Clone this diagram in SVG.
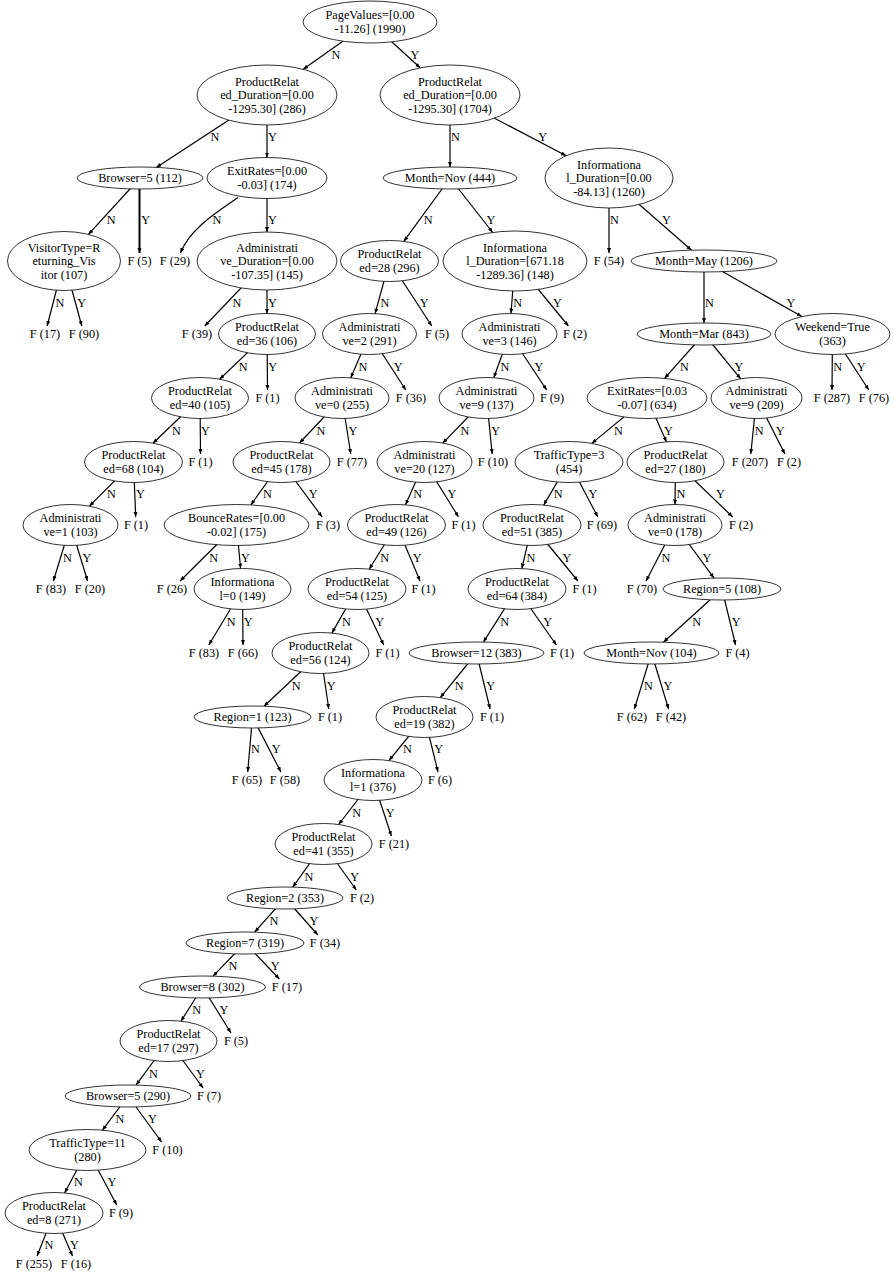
<svg xmlns="http://www.w3.org/2000/svg" width="894" height="1272" viewBox="0 0 894 1272">
<style>
text{font-family:"Liberation Serif","Times New Roman",serif;font-size:12.25px;fill:#000}
.t{text-anchor:middle}
ellipse{fill:#fff;stroke:#000;stroke-width:0.8}
.e{stroke:#000;stroke-width:1.2;fill:none;marker-end:url(#a)}
</style>
<defs>
<marker id="a" markerUnits="userSpaceOnUse" markerWidth="6" markerHeight="5" refX="5" refY="2" orient="auto"><path d="M0,0L5,2L0,4z" fill="#000"/></marker>
</defs>
<rect width="894" height="1272" fill="#fff"/>
<g id="connectors">
<path class="e" d="M370,22L303.2,69.3"/><text x="331.5" y="58.5">N</text>
<path class="e" d="M370,22L420.2,67.8"/><text x="410.5" y="58.5">Y</text>
<path class="e" d="M267,95L156.3,167.4"/><text x="210.6" y="141">N</text>
<path class="e" d="M267,95L267,157.5"/><text x="268" y="141">Y</text>
<path class="e" d="M450,95L450,167"/><text x="451" y="141">N</text>
<path class="e" d="M450,95L566.2,155.7"/><text x="538.2" y="141">Y</text>
<path class="e" d="M140,178L88.4,234.4"/><text x="106.7" y="224">N</text>
<path class="e" d="M139.5,178L139.5,253" style="stroke-width:2"/><text x="141.3" y="224">Y</text>
<path class="e" d="M238,197.5C220,210 190,228 180.5,253"/><text x="212.5" y="224">N</text>
<path class="e" d="M267,178L267,232"/><text x="268" y="224">Y</text>
<path class="e" d="M450,178L403.8,241.4"/><text x="423.7" y="224">N</text>
<path class="e" d="M450,178L492.7,232.5"/><text x="486.6" y="224">Y</text>
<path class="e" d="M609,178L609,253"/><text x="610" y="224">N</text>
<path class="e" d="M609,178L691.6,250.2"/><text x="662" y="224">Y</text>
<path class="e" d="M64,261L47.1,326"/><text x="55.4" y="306.5">N</text>
<path class="e" d="M64,261L81.8,326"/><text x="77.3" y="306.5">Y</text>
<path class="e" d="M267,261L204.7,326"/><text x="232.5" y="306.5">N</text>
<path class="e" d="M267,261L267,313.5"/><text x="268" y="306.5">Y</text>
<path class="e" d="M389.5,261L375.1,313.6"/><text x="380.4" y="306.5">N</text>
<path class="e" d="M389.5,261L431.8,326"/><text x="419.8" y="306.5">Y</text>
<path class="e" d="M515,261L511,313.5"/><text x="513.2" y="306.5">N</text>
<path class="e" d="M515,261L568.4,326"/><text x="553" y="306.5">Y</text>
<path class="e" d="M704,261L704,323"/><text x="705" y="306.5">N</text>
<path class="e" d="M704,261L801.9,316.6"/><text x="786.5" y="306.5">Y</text>
<path class="e" d="M267,334L219.6,379.3"/><text x="238.7" y="370.5">N</text>
<path class="e" d="M267,334L267.5,390"/><text x="268.3" y="370.5">Y</text>
<path class="e" d="M369.5,334L350.7,377.9"/><text x="358.5" y="370.5">N</text>
<path class="e" d="M369.5,334L405.8,390"/><text x="393.8" y="370.5">Y</text>
<path class="e" d="M509.5,334L493.8,377.7"/><text x="500.4" y="370.5">N</text>
<path class="e" d="M509.5,334L546.7,390"/><text x="534.4" y="370.5">Y</text>
<path class="e" d="M704,334L664.5,378.4"/><text x="680.1" y="370.5">N</text>
<path class="e" d="M704,334L740.7,378.8"/><text x="734.5" y="370.5">Y</text>
<path class="e" d="M832.5,334L832,390"/><text x="833.3" y="370.5">N</text>
<path class="e" d="M832.5,334L868.8,390"/><text x="856.8" y="370.5">Y</text>
<path class="e" d="M200,398L153,443.2"/><text x="171.9" y="434.5">N</text>
<path class="e" d="M200,398L200.5,454"/><text x="201" y="434.5">Y</text>
<path class="e" d="M342,398L299.5,443"/><text x="316.5" y="434.5">N</text>
<path class="e" d="M342,398L350.75,454"/><text x="348.6" y="434.5">Y</text>
<path class="e" d="M486.5,398L442.8,443.1"/><text x="460.4" y="434.5">N</text>
<path class="e" d="M486.5,398L492.2,454"/><text x="491.2" y="434.5">Y</text>
<path class="e" d="M647,398L591.7,443.4"/><text x="613.9" y="434.5">N</text>
<path class="e" d="M647,398L666.5,441.9"/><text x="664" y="434.5">Y</text>
<path class="e" d="M756.5,398L750.8,454"/><text x="754.7" y="434.5">N</text>
<path class="e" d="M756.5,398L784.9,454"/><text x="775.8" y="434.5">Y</text>
<path class="e" d="M133.5,462L89.3,506.2"/><text x="107" y="498">N</text>
<path class="e" d="M133.5,462L135.7,517"/><text x="135.9" y="498">Y</text>
<path class="e" d="M281.5,462L250.9,504.9"/><text x="262.9" y="498">N</text>
<path class="e" d="M281.5,462L322.1,517"/><text x="308.7" y="498">Y</text>
<path class="e" d="M424.5,462L405.5,504.8"/><text x="413.3" y="498">N</text>
<path class="e" d="M424.5,462L458.5,517"/><text x="447.5" y="498">Y</text>
<path class="e" d="M569,462L543.7,505.1"/><text x="553.8" y="498">N</text>
<path class="e" d="M569,462L597.8,517"/><text x="588.6" y="498">Y</text>
<path class="e" d="M675.5,462L675,504.5"/><text x="676.5" y="498">N</text>
<path class="e" d="M675.5,462L732.7,517"/><text x="716" y="498">Y</text>
<path class="e" d="M70.5,525L53.4,581"/><text x="63" y="561.5">N</text>
<path class="e" d="M70.5,525L87.6,581"/><text x="82.5" y="561.5">Y</text>
<path class="e" d="M236.5,525L180.1,581"/><text x="209.3" y="561.5">N</text>
<path class="e" d="M236.5,525L240.6,568.5"/><text x="240.9" y="561.5">Y</text>
<path class="e" d="M396.5,525L369.2,569.2"/><text x="380.2" y="561.5">N</text>
<path class="e" d="M396.5,525L420.1,581"/><text x="412.7" y="561.5">Y</text>
<path class="e" d="M532,525L521.8,568.6"/><text x="526.4" y="561.5">N</text>
<path class="e" d="M532,525L577.9,581"/><text x="562.5" y="561.5">Y</text>
<path class="e" d="M675,525L646.1,581"/><text x="661.6" y="561.5">N</text>
<path class="e" d="M675,525L714,578.1"/><text x="702.4" y="561.5">Y</text>
<path class="e" d="M242.5,589L208.8,645"/><text x="226.7" y="625.5">N</text>
<path class="e" d="M242.5,589L243,645"/><text x="243.8" y="625.5">Y</text>
<path class="e" d="M357,589L331.9,633.1"/><text x="342" y="625.5">N</text>
<path class="e" d="M357,589L383.7,645"/><text x="375.2" y="625.5">Y</text>
<path class="e" d="M517,589L483.4,642.1"/><text x="500.3" y="625.5">N</text>
<path class="e" d="M517,589L556.4,645"/><text x="543.3" y="625.5">Y</text>
<path class="e" d="M722,589L663.4,642.2"/><text x="692.2" y="625.5">N</text>
<path class="e" d="M722,589L735.6,645"/><text x="731.7" y="625.5">Y</text>
<path class="e" d="M320.5,653L264,706.2"/><text x="291.8" y="689.5">N</text>
<path class="e" d="M320.5,653L328.8,709"/><text x="326.8" y="689.5">Y</text>
<path class="e" d="M476.5,653L440.3,697.6"/><text x="454.8" y="689.5">N</text>
<path class="e" d="M476.5,653L490.1,709"/><text x="486.2" y="689.5">Y</text>
<path class="e" d="M651.5,653L634.4,709"/><text x="644" y="689.5">N</text>
<path class="e" d="M651.5,653L668.6,709"/><text x="663.5" y="689.5">Y</text>
<path class="e" d="M252.5,717L247.7,772"/><text x="251.1" y="753">N</text>
<path class="e" d="M252.5,717L280.9,772"/><text x="271.8" y="753">Y</text>
<path class="e" d="M424.5,717L388.9,760.6"/><text x="403" y="753">N</text>
<path class="e" d="M424.5,717L438,772"/><text x="434.2" y="753">Y</text>
<path class="e" d="M373,780L338.6,824.5"/><text x="352.3" y="816.5">N</text>
<path class="e" d="M373,780L391.4,836"/><text x="385.8" y="816.5">Y</text>
<path class="e" d="M323.5,844L292.8,887.1"/><text x="304.5" y="880.5">N</text>
<path class="e" d="M323.5,844L356.3,890"/><text x="350.2" y="880.5">Y</text>
<path class="e" d="M285,898L254.6,932.2"/><text x="269.6" y="925">N</text>
<path class="e" d="M285,898L317.9,935"/><text x="309.6" y="925">Y</text>
<path class="e" d="M245,943L213,976.2"/><text x="228.6" y="969.5">N</text>
<path class="e" d="M245,943L279.4,979"/><text x="270.8" y="969.5">Y</text>
<path class="e" d="M202.5,987L181,1021.2"/><text x="192.2" y="1013.5">N</text>
<path class="e" d="M202.5,987L231,1033"/><text x="219.6" y="1013.5">Y</text>
<path class="e" d="M168.5,1041L136,1085.1"/><text x="148.9" y="1077.5">N</text>
<path class="e" d="M168.5,1041L203.1,1088"/><text x="196" y="1077.5">Y</text>
<path class="e" d="M128,1096L102.4,1130.2"/><text x="115.5" y="1122.5">N</text>
<path class="e" d="M128,1096L161.6,1142"/><text x="148" y="1122.5">Y</text>
<path class="e" d="M87.5,1150L64.6,1193"/><text x="73.9" y="1186">N</text>
<path class="e" d="M87.5,1150L116.7,1205"/><text x="107.4" y="1186">Y</text>
<path class="e" d="M54,1213L37.1,1256"/><text x="44.4" y="1248.5">N</text>
<path class="e" d="M54,1213L72.5,1256"/><text x="70.1" y="1248.5">Y</text>
</g>
<g id="n0"><ellipse cx="370" cy="22" rx="67" ry="21"/><text class="t"><tspan x="370" y="19.25">PageValues=[0.00</tspan><tspan x="370" y="32.75">-11.26] (1990)</tspan></text></g>
<g id="n1"><ellipse cx="267" cy="95" rx="70" ry="30"/><text class="t"><tspan x="267" y="85.5">ProductRelat</tspan><tspan x="267" y="99">ed_Duration=[0.00</tspan><tspan x="267" y="112.5">-1295.30] (286)</tspan></text></g>
<g id="n2"><ellipse cx="450" cy="95" rx="70" ry="30"/><text class="t"><tspan x="450" y="85.5">ProductRelat</tspan><tspan x="450" y="99">ed_Duration=[0.00</tspan><tspan x="450" y="112.5">-1295.30] (1704)</tspan></text></g>
<g id="n3"><ellipse cx="140" cy="178" rx="63" ry="11"/><text class="t" x="140" y="182">Browser=5 (112)</text></g>
<g id="n4"><ellipse cx="267" cy="178" rx="60" ry="20.5"/><text class="t"><tspan x="267" y="175.25">ExitRates=[0.00</tspan><tspan x="267" y="188.75">-0.03] (174)</tspan></text></g>
<g id="n5"><ellipse cx="450" cy="178" rx="67" ry="11"/><text class="t" x="450" y="182">Month=Nov (444)</text></g>
<g id="n6"><ellipse cx="609" cy="178" rx="64" ry="30"/><text class="t"><tspan x="609" y="168.5">Informationa</tspan><tspan x="609" y="182">l_Duration=[0.00</tspan><tspan x="609" y="195.5">-84.13] (1260)</tspan></text></g>
<g id="n7"><ellipse cx="64" cy="261" rx="56.5" ry="29.5"/><text class="t"><tspan x="64" y="251.5">VisitorType=R</tspan><tspan x="64" y="265">eturning_Vis</tspan><tspan x="64" y="278.5">itor (107)</tspan></text></g>
<g id="l_F5a"><text class="t" x="139.5" y="265">F (5)</text></g>
<g id="l_F29"><text class="t" x="175" y="265">F (29)</text></g>
<g id="n8"><ellipse cx="267" cy="261" rx="70" ry="29"/><text class="t"><tspan x="267" y="251.5">Administrati</tspan><tspan x="267" y="265">ve_Duration=[0.00</tspan><tspan x="267" y="278.5">-107.35] (145)</tspan></text></g>
<g id="n9"><ellipse cx="389.5" cy="261" rx="49" ry="20.5"/><text class="t"><tspan x="389.5" y="258.25">ProductRelat</tspan><tspan x="389.5" y="271.75">ed=28 (296)</tspan></text></g>
<g id="n10"><ellipse cx="515" cy="261" rx="72" ry="30"/><text class="t"><tspan x="515" y="251.5">Informationa</tspan><tspan x="515" y="265">l_Duration=[671.18</tspan><tspan x="515" y="278.5">-1289.36] (148)</tspan></text></g>
<g id="l_F54"><text class="t" x="609" y="265">F (54)</text></g>
<g id="n11"><ellipse cx="704" cy="261" rx="73" ry="11"/><text class="t" x="704" y="265">Month=May (1206)</text></g>
<g id="l_F17"><text class="t" x="45" y="338">F (17)</text></g>
<g id="l_F90"><text class="t" x="84" y="338">F (90)</text></g>
<g id="l_F39"><text class="t" x="197" y="338">F (39)</text></g>
<g id="n12"><ellipse cx="267" cy="334" rx="48.5" ry="20.5"/><text class="t"><tspan x="267" y="331.25">ProductRelat</tspan><tspan x="267" y="344.75">ed=36 (106)</tspan></text></g>
<g id="n13"><ellipse cx="369.5" cy="334" rx="47" ry="20.5"/><text class="t"><tspan x="369.5" y="331.25">Administrati</tspan><tspan x="369.5" y="344.75">ve=2 (291)</tspan></text></g>
<g id="l_F5b"><text class="t" x="437" y="338">F (5)</text></g>
<g id="n14"><ellipse cx="509.5" cy="334" rx="47.5" ry="20.5"/><text class="t"><tspan x="509.5" y="331.25">Administrati</tspan><tspan x="509.5" y="344.75">ve=3 (146)</tspan></text></g>
<g id="l_F2a"><text class="t" x="575" y="338">F (2)</text></g>
<g id="n15"><ellipse cx="704" cy="334" rx="67" ry="11"/><text class="t" x="704" y="338">Month=Mar (843)</text></g>
<g id="n16"><ellipse cx="832.5" cy="334" rx="57.5" ry="20.5"/><text class="t"><tspan x="832.5" y="331.25">Weekend=True</tspan><tspan x="832.5" y="344.75">(363)</tspan></text></g>
<g id="n17"><ellipse cx="200" cy="398" rx="48.5" ry="20.5"/><text class="t"><tspan x="200" y="395.25">ProductRelat</tspan><tspan x="200" y="408.75">ed=40 (105)</tspan></text></g>
<g id="l_F1a"><text class="t" x="267.5" y="402">F (1)</text></g>
<g id="n18"><ellipse cx="342" cy="398" rx="47" ry="20.5"/><text class="t"><tspan x="342" y="395.25">Administrati</tspan><tspan x="342" y="408.75">ve=0 (255)</tspan></text></g>
<g id="l_F36"><text class="t" x="411" y="402">F (36)</text></g>
<g id="n19"><ellipse cx="486.5" cy="398" rx="47.5" ry="20.5"/><text class="t"><tspan x="486.5" y="395.25">Administrati</tspan><tspan x="486.5" y="408.75">ve=9 (137)</tspan></text></g>
<g id="l_F9a"><text class="t" x="552" y="402">F (9)</text></g>
<g id="n20"><ellipse cx="647" cy="398" rx="60" ry="20.5"/><text class="t"><tspan x="647" y="395.25">ExitRates=[0.03</tspan><tspan x="647" y="408.75">-0.07] (634)</tspan></text></g>
<g id="n21"><ellipse cx="756.5" cy="398" rx="45.5" ry="20.5"/><text class="t"><tspan x="756.5" y="395.25">Administrati</tspan><tspan x="756.5" y="408.75">ve=9 (209)</tspan></text></g>
<g id="l_F287"><text class="t" x="832" y="402">F (287)</text></g>
<g id="l_F76"><text class="t" x="874" y="402">F (76)</text></g>
<g id="n22"><ellipse cx="133.5" cy="462" rx="49" ry="20.5"/><text class="t"><tspan x="133.5" y="459.25">ProductRelat</tspan><tspan x="133.5" y="472.75">ed=68 (104)</tspan></text></g>
<g id="l_F1b"><text class="t" x="200.5" y="466">F (1)</text></g>
<g id="n23"><ellipse cx="281.5" cy="462" rx="48.5" ry="20.5"/><text class="t"><tspan x="281.5" y="459.25">ProductRelat</tspan><tspan x="281.5" y="472.75">ed=45 (178)</tspan></text></g>
<g id="l_F77"><text class="t" x="352" y="466">F (77)</text></g>
<g id="n24"><ellipse cx="424.5" cy="462" rx="47.5" ry="20.5"/><text class="t"><tspan x="424.5" y="459.25">Administrati</tspan><tspan x="424.5" y="472.75">ve=20 (127)</tspan></text></g>
<g id="l_F10a"><text class="t" x="493" y="466">F (10)</text></g>
<g id="n25"><ellipse cx="569" cy="462" rx="54" ry="20.5"/><text class="t"><tspan x="569" y="459.25">TrafficType=3</tspan><tspan x="569" y="472.75">(454)</tspan></text></g>
<g id="n26"><ellipse cx="675.5" cy="462" rx="48.5" ry="20.5"/><text class="t"><tspan x="675.5" y="459.25">ProductRelat</tspan><tspan x="675.5" y="472.75">ed=27 (180)</tspan></text></g>
<g id="l_F207"><text class="t" x="750" y="466">F (207)</text></g>
<g id="l_F2b"><text class="t" x="789" y="466">F (2)</text></g>
<g id="n27"><ellipse cx="70.5" cy="525" rx="47.5" ry="20.5"/><text class="t"><tspan x="70.5" y="522.25">Administrati</tspan><tspan x="70.5" y="535.75">ve=1 (103)</tspan></text></g>
<g id="l_F1c"><text class="t" x="136" y="529">F (1)</text></g>
<g id="n28"><ellipse cx="236.5" cy="525" rx="72.5" ry="20.5"/><text class="t"><tspan x="236.5" y="522.25">BounceRates=[0.00</tspan><tspan x="236.5" y="535.75">-0.02] (175)</tspan></text></g>
<g id="l_F3"><text class="t" x="328" y="529">F (3)</text></g>
<g id="n29"><ellipse cx="396.5" cy="525" rx="49" ry="20.5"/><text class="t"><tspan x="396.5" y="522.25">ProductRelat</tspan><tspan x="396.5" y="535.75">ed=49 (126)</tspan></text></g>
<g id="l_F1d"><text class="t" x="463.5" y="529">F (1)</text></g>
<g id="n30"><ellipse cx="532" cy="525" rx="49" ry="20.5"/><text class="t"><tspan x="532" y="522.25">ProductRelat</tspan><tspan x="532" y="535.75">ed=51 (385)</tspan></text></g>
<g id="l_F69"><text class="t" x="602" y="529">F (69)</text></g>
<g id="n31"><ellipse cx="675" cy="525" rx="47" ry="20.5"/><text class="t"><tspan x="675" y="522.25">Administrati</tspan><tspan x="675" y="535.75">ve=0 (178)</tspan></text></g>
<g id="l_F2c"><text class="t" x="741" y="529">F (2)</text></g>
<g id="l_F83a"><text class="t" x="51" y="593">F (83)</text></g>
<g id="l_F20"><text class="t" x="90" y="593">F (20)</text></g>
<g id="l_F26"><text class="t" x="172" y="593">F (26)</text></g>
<g id="n32"><ellipse cx="242.5" cy="589" rx="48.5" ry="20.5"/><text class="t"><tspan x="242.5" y="586.25">Informationa</tspan><tspan x="242.5" y="599.75">l=0 (149)</tspan></text></g>
<g id="n33"><ellipse cx="357" cy="589" rx="49" ry="20.5"/><text class="t"><tspan x="357" y="586.25">ProductRelat</tspan><tspan x="357" y="599.75">ed=54 (125)</tspan></text></g>
<g id="l_F1e"><text class="t" x="423.5" y="593">F (1)</text></g>
<g id="n34"><ellipse cx="517" cy="589" rx="49" ry="20.5"/><text class="t"><tspan x="517" y="586.25">ProductRelat</tspan><tspan x="517" y="599.75">ed=64 (384)</tspan></text></g>
<g id="l_F1f"><text class="t" x="584.5" y="593">F (1)</text></g>
<g id="l_F70"><text class="t" x="642" y="593">F (70)</text></g>
<g id="n35"><ellipse cx="722" cy="589" rx="59" ry="11"/><text class="t" x="722" y="593">Region=5 (108)</text></g>
<g id="l_F83b"><text class="t" x="204" y="657">F (83)</text></g>
<g id="l_F66"><text class="t" x="243" y="657">F (66)</text></g>
<g id="n36"><ellipse cx="320.5" cy="653" rx="48.5" ry="20.5"/><text class="t"><tspan x="320.5" y="650.25">ProductRelat</tspan><tspan x="320.5" y="663.75">ed=56 (124)</tspan></text></g>
<g id="l_F1g"><text class="t" x="387.5" y="657">F (1)</text></g>
<g id="n37"><ellipse cx="476.5" cy="653" rx="67.5" ry="11"/><text class="t" x="476.5" y="657">Browser=12 (383)</text></g>
<g id="l_F1h"><text class="t" x="562" y="657">F (1)</text></g>
<g id="n38"><ellipse cx="651.5" cy="653" rx="67.5" ry="11"/><text class="t" x="651.5" y="657">Month=Nov (104)</text></g>
<g id="l_F4"><text class="t" x="737.5" y="657">F (4)</text></g>
<g id="n39"><ellipse cx="252.5" cy="717" rx="58.5" ry="11"/><text class="t" x="252.5" y="721">Region=1 (123)</text></g>
<g id="l_F1i"><text class="t" x="330" y="721">F (1)</text></g>
<g id="n40"><ellipse cx="424.5" cy="717" rx="48.5" ry="20.5"/><text class="t"><tspan x="424.5" y="714.25">ProductRelat</tspan><tspan x="424.5" y="727.75">ed=19 (382)</tspan></text></g>
<g id="l_F1j"><text class="t" x="492" y="721">F (1)</text></g>
<g id="l_F62"><text class="t" x="632" y="721">F (62)</text></g>
<g id="l_F42"><text class="t" x="671" y="721">F (42)</text></g>
<g id="l_F65"><text class="t" x="247" y="784">F (65)</text></g>
<g id="l_F58"><text class="t" x="285" y="784">F (58)</text></g>
<g id="n41"><ellipse cx="373" cy="780" rx="49" ry="20.5"/><text class="t"><tspan x="373" y="777.25">Informationa</tspan><tspan x="373" y="790.75">l=1 (376)</tspan></text></g>
<g id="l_F6"><text class="t" x="440" y="784">F (6)</text></g>
<g id="n42"><ellipse cx="323.5" cy="844" rx="48.5" ry="20.5"/><text class="t"><tspan x="323.5" y="841.25">ProductRelat</tspan><tspan x="323.5" y="854.75">ed=41 (355)</tspan></text></g>
<g id="l_F21"><text class="t" x="394" y="848">F (21)</text></g>
<g id="n43"><ellipse cx="285" cy="898" rx="58" ry="11"/><text class="t" x="285" y="902">Region=2 (353)</text></g>
<g id="l_F2d"><text class="t" x="362" y="902">F (2)</text></g>
<g id="n44"><ellipse cx="245" cy="943" rx="59" ry="11"/><text class="t" x="245" y="947">Region=7 (319)</text></g>
<g id="l_F34"><text class="t" x="325" y="947">F (34)</text></g>
<g id="n45"><ellipse cx="202.5" cy="987" rx="63" ry="11"/><text class="t" x="202.5" y="991">Browser=8 (302)</text></g>
<g id="l_F17b"><text class="t" x="287" y="991">F (17)</text></g>
<g id="n46"><ellipse cx="168.5" cy="1041" rx="48.5" ry="20.5"/><text class="t"><tspan x="168.5" y="1038.25">ProductRelat</tspan><tspan x="168.5" y="1051.75">ed=17 (297)</tspan></text></g>
<g id="l_F5c"><text class="t" x="236" y="1045">F (5)</text></g>
<g id="n47"><ellipse cx="128" cy="1096" rx="63" ry="11"/><text class="t" x="128" y="1100">Browser=5 (290)</text></g>
<g id="l_F7"><text class="t" x="209" y="1100">F (7)</text></g>
<g id="n48"><ellipse cx="87.5" cy="1150" rx="58.5" ry="20.5"/><text class="t"><tspan x="87.5" y="1147.25">TrafficType=11</tspan><tspan x="87.5" y="1160.75">(280)</tspan></text></g>
<g id="l_F10b"><text class="t" x="167.5" y="1154">F (10)</text></g>
<g id="n49"><ellipse cx="54" cy="1213" rx="49" ry="20.5"/><text class="t"><tspan x="54" y="1210.25">ProductRelat</tspan><tspan x="54" y="1223.75">ed=8 (271)</tspan></text></g>
<g id="l_F9b"><text class="t" x="121" y="1217">F (9)</text></g>
<g id="l_F255"><text class="t" x="34" y="1268">F (255)</text></g>
<g id="l_F16"><text class="t" x="76" y="1268">F (16)</text></g>
</svg>
